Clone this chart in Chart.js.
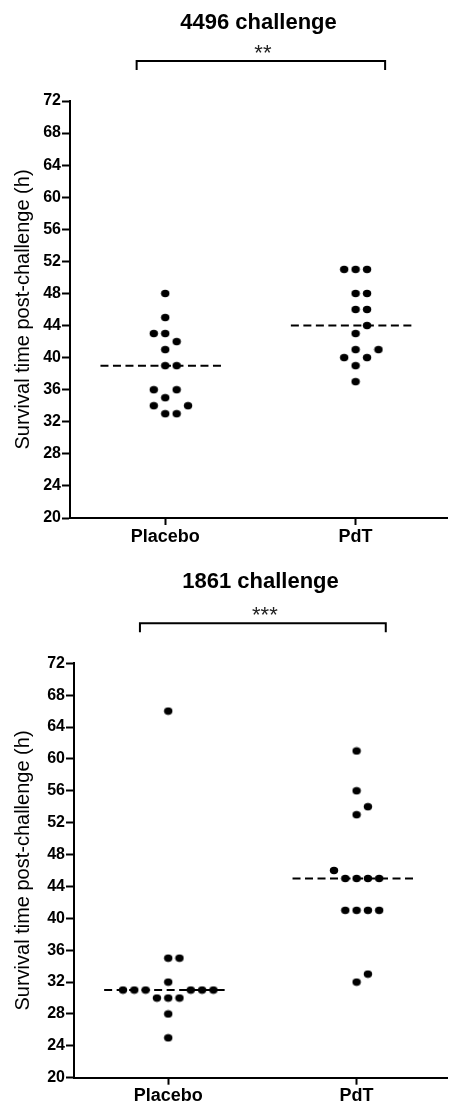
<!DOCTYPE html>
<html>
<head>
<meta charset="utf-8">
<title>Survival time post-challenge</title>
<script src="https://cdn.jsdelivr.net/npm/chart.js@4.4.0/dist/chart.umd.min.js"></script>
<style>
  html, body { margin: 0; padding: 0; background: #fff; }
  canvas { display: block; }
</style>
</head>
<body>
<canvas id="chart4496" width="452" height="550"></canvas>
<canvas id="chart1861" width="452" height="552"></canvas>
<script>
// data (hours)
const groups = ['Placebo', 'PdT'];
const yTickValues = [20, 24, 28, 32, 36, 40, 44, 48, 52, 56, 60, 64, 68, 72];

const placebo4496 = [48, 45, 43, 43, 42, 41, 39, 39, 36, 36, 35, 34, 34, 33, 33];
const pdt4496 = [51, 51, 51, 48, 48, 46, 46, 44, 43, 41, 41, 40, 40, 39, 37];

const placebo1861 = [66, 35, 35, 32, 31, 31, 31, 31, 31, 31, 30, 30, 30, 28, 25];
const pdt1861 = [61, 56, 54, 53, 46, 45, 45, 45, 45, 41, 41, 41, 41, 33, 32];

const FONT = '"Liberation Sans", Arial, Helvetica, sans-serif';
Chart.defaults.font.family = FONT;
Chart.defaults.color = '#000';

const SLOT = 0.06;      // horizontal spacing of stacked dots (x units)
const CLASH = 1.5;      // dots closer than this (y units) can't share a column

function median(values) {
    const s = [...values].sort((a, b) => a - b);
    const m = Math.floor(s.length / 2);
    return s.length % 2 ? s[m] : (s[m - 1] + s[m]) / 2;
}

// simple beeswarm: put each dot in the first free column 0, +1, -1, +2, ...
function swarm(values, center) {
    const placed = [];
    [...values].sort((a, b) => a - b).forEach((v) => {
        for (let k = 0; k < 20; k++) {
            const col = k === 0 ? 0 : (k % 2 ? (k + 1) / 2 : -k / 2);
            const hit = placed.some((p) => p.col === col && Math.abs(p.v - v) < CLASH);
            if (!hit) {
                placed.push({ v, col });
                break;
            }
        }
    });
    return placed.map((p) => ({ x: center + p.col * SLOT, y: p.v }));
}

function makeDot() {
    const c = document.createElement('canvas');
    c.width = 10;
    c.height = 9;
    const g = c.getContext('2d');
    g.fillStyle = '#000';
    g.beginPath();
    g.ellipse(5, 4.5, 4.2, 3.7, 0, 0, Math.PI * 2);
    g.fill();
    return c;
}
const dot = makeDot();

// significance bracket + stars above the plot
const bracketPlugin = {
    id: 'bracket',
    afterDraw(chart, args, opts) {
        const { ctx, chartArea, scales } = chart;
        const x1 = scales.x.getPixelForValue(1 - 0.15);
        const x2 = scales.x.getPixelForValue(2 + 0.155);
        const yLine = chartArea.top - 40;
        const yLeg = chartArea.top - 31;
        ctx.save();
        ctx.strokeStyle = '#000';
        ctx.lineWidth = 2;
        ctx.beginPath();
        ctx.moveTo(x1, yLeg);
        ctx.lineTo(x1, yLine);
        ctx.lineTo(x2, yLine);
        ctx.lineTo(x2, yLeg);
        ctx.stroke();
        ctx.fillStyle = '#222';
        ctx.font = '22px ' + FONT;
        ctx.textAlign = 'center';
        ctx.textBaseline = 'alphabetic';
        ctx.fillText(opts.text, (x1 + x2) / 2 + 2, chartArea.top - 41);
        ctx.restore();
    }
};

function medianLine(values, center) {
    const m = median(values);
    return {
        type: 'line',
        data: [{ x: center - 0.34, y: m }, { x: center + 0.31, y: m }],
        borderColor: '#000',
        borderWidth: 2,
        borderDash: [8, 4.5],
        pointRadius: 0,
        order: 1
    };
}

function makeChart(id, cfg) {
    const ctx = document.getElementById(id);
    new Chart(ctx, {
        type: 'scatter',
        data: {
            datasets: [
                {
                    data: swarm(cfg.placebo, 1),
                    pointStyle: dot,
                    order: 0
                },
                {
                    data: swarm(cfg.pdt, 2),
                    pointStyle: dot,
                    order: 0
                },
                medianLine(cfg.placebo, 1),
                medianLine(cfg.pdt, 2)
            ]
        },
        options: {
            responsive: false,
            animation: false,
            events: [],
            layout: { padding: 0 },
            plugins: {
                legend: { display: false },
                tooltip: { enabled: false },
                title: {
                    display: true,
                    text: cfg.title,
                    fullSize: false,
                    color: '#000',
                    font: { size: 22, weight: 'bold', lineHeight: 1.2 },
                    padding: { top: cfg.titleTop, bottom: cfg.titleBottom }
                },
                bracket: { text: cfg.stars }
            },
            scales: {
                x: {
                    type: 'linear',
                    min: 0.5,
                    max: 2.48,
                    afterBuildTicks: (s) => {
                        s.ticks = groups.map((g, i) => ({ value: i + 1 }));
                    },
                    afterFit: (s) => {
                        s.height = cfg.xAxisHeight;
                    },
                    ticks: {
                        callback: (v) => groups[v - 1],
                        color: '#000',
                        font: { size: 18, weight: 'bold' },
                        padding: 1,
                        autoSkip: false,
                        maxRotation: 0
                    },
                    grid: {
                        drawOnChartArea: false,
                        tickLength: 7,
                        tickWidth: 2,
                        tickColor: '#000'
                    },
                    border: { color: '#000', width: 2 }
                },
                y: {
                    min: 20,
                    max: 72,
                    afterBuildTicks: (s) => {
                        s.ticks = yTickValues.map((v) => ({ value: v }));
                    },
                    afterFit: (s) => {
                        s.width = cfg.yAxisWidth;
                    },
                    title: {
                        display: true,
                        text: 'Survival time post-challenge (h)',
                        color: '#000',
                        font: { size: 20, lineHeight: 1.2 },
                        padding: { top: 11, bottom: 0 }
                    },
                    ticks: {
                        color: '#000',
                        font: { size: 16, weight: 'bold' },
                        padding: 1
                    },
                    grid: {
                        drawOnChartArea: false,
                        tickLength: 8,
                        tickWidth: 2,
                        tickColor: '#000'
                    },
                    border: { color: '#000', width: 2 }
                }
            }
        },
        plugins: [bracketPlugin]
    });
}

makeChart('chart4496', {
    title: '4496 challenge',
    stars: '**',
    placebo: placebo4496,
    pdt: pdt4496,
    titleTop: 10,
    titleBottom: 64.6,
    xAxisHeight: 32,
    yAxisWidth: 70
});

makeChart('chart1861', {
    title: '1861 challenge',
    stars: '***',
    placebo: placebo1861,
    pdt: pdt1861,
    titleTop: 18.5,
    titleBottom: 68.4,
    xAxisHeight: 24.3,
    yAxisWidth: 74
});
</script>
</body>
</html>
